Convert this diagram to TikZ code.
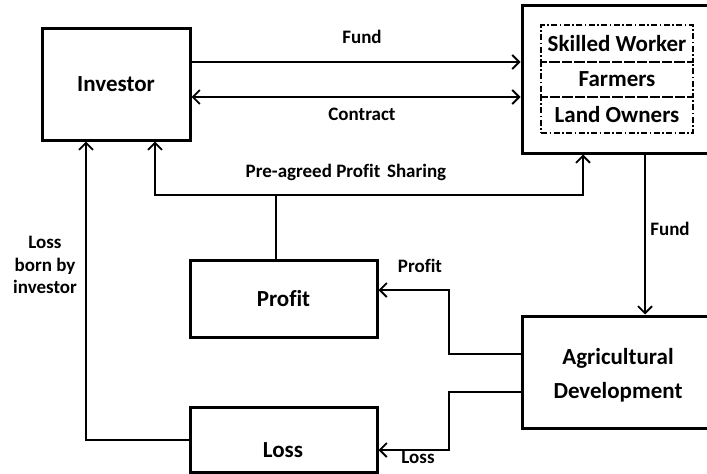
\documentclass[tikz,border=0pt]{standalone}
\usepackage{fontspec}
\setmainfont[Ligatures=NoCommon]{Carlito}
\usetikzlibrary{arrows.meta}
\begin{document}
\begin{tikzpicture}[x=1pt,y=-1pt,
  box/.style={draw,line width=3pt,rectangle,inner sep=0pt,font=\fontsize{23}{26}\selectfont\bfseries},
  ibox/.style={draw,line width=1.6pt,dash pattern=on 6pt off 2.5pt on 1.5pt off 2.5pt,rectangle,inner sep=0pt,font=\fontsize{23}{26}\selectfont\bfseries},
  arr/.style={line width=1.8pt,-{Straight Barb[length=7pt,width=14pt,line width=1.8pt]}},
  ln/.style={line width=1.8pt},
  btxt/.style={font=\fontsize{23}{34}\selectfont\bfseries,inner sep=0pt,align=center},
  lbl/.style={font=\fontsize{19}{22.5}\selectfont\bfseries,inner sep=0pt,align=center}]
\useasboundingbox (0,0) rectangle (707,474);
% boxes
\node[box,minimum width=148pt,minimum height=112pt] (inv) at (116,84) {Investor};
\node[box,minimum width=190pt,minimum height=148pt] (rb) at (617,79) {};
\node[ibox,minimum width=152pt,minimum height=37pt] (sw) at (617,43.5) {Skilled Worker};
\node[ibox,minimum width=152pt,minimum height=35pt] (fa) at (617,79.5) {Farmers};
\node[ibox,minimum width=152pt,minimum height=36pt] (lo) at (617,115) {Land Owners};
\node[box,minimum width=187pt,minimum height=77pt] (profit) at (283.5,298.5) {Profit};
\node[box,minimum width=187pt,minimum height=65pt] (loss) at (283.5,439.5) {};
\node[btxt] (losst) at (283,450) {Loss};
\node[box,minimum width=190pt,minimum height=112pt] (agri) at (617,372) {};
\node[btxt] (agrit) at (618,375) {Agricultural\\Development};
% coordinates
\coordinate (fy) at (0,62);
\coordinate (cy) at (0,97);
\coordinate (psL) at (155,195);
\coordinate (psR) at (583,195);
\coordinate (pj) at (276,195);
\coordinate (lb) at (86,440);
\coordinate (fx) at (645,0);
\coordinate (pa) at (449,354);
\coordinate (pb) at (449,290);
\coordinate (la) at (449,392);
\coordinate (lc) at (449,450);
% connectors
\draw[arr] (inv.east |- fy) -- (rb.west |- fy);
\draw[arr,{Straight Barb[length=7pt,width=14pt,line width=1.8pt]}-{Straight Barb[length=7pt,width=14pt,line width=1.8pt]}] (inv.east |- cy) -- (rb.west |- cy);
\draw[arr] (psR) -- (psL) -- (psL |- inv.south);
\draw[arr] (psL) -- (psR) -- (psR |- rb.south);
\draw[ln] (pj |- profit.north) -- (pj);
\draw[arr] (loss.west |- lb) -- (lb) -- (lb |- inv.south);
\draw[arr] (fx |- rb.south) -- (fx |- agri.north);
\draw[arr] (agri.west |- pa) -- (pa) -- (pb) -- (profit.east |- pb);
\draw[arr] (agri.west |- la) -- (la) -- (lc) -- (loss.east |- lc);
% labels
\node[lbl] (lf) at (362,37) {Fund};
\node[lbl] (lct) at (362,114) {Contract};
\node[lbl] (lps) at (346,172) {Pre-agreed Profit\hspace{0.35em}Sharing};
\node[lbl] (lf2) at (670,229) {Fund};
\node[lbl] (lp) at (420,266) {Profit};
\node[lbl] (ll) at (418,457) {Loss};
\node[lbl] (llb) at (45,265) {Loss\\born by\\investor};
\end{tikzpicture}
\end{document}
